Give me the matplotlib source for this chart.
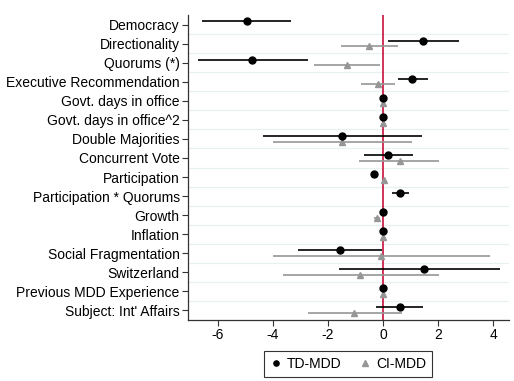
import numpy as np
import matplotlib
matplotlib.use("Agg")
import matplotlib.pyplot as plt

plt.rcParams['font.family'] = ['Liberation Sans', 'DejaVu Sans']

# Variables (top to bottom)
labels = ["Democracy", "Directionality", "Quorums (*)", "Executive Recommendation",
          "Govt. days in office", "Govt. days in office^2", "Double Majorities",
          "Concurrent Vote", "Participation", "Participation * Quorums", "Growth",
          "Inflation", "Social Fragmentation", "Switzerland",
          "Previous MDD Experience", "Subject: Int' Affairs"]

# TD-MDD coefficients and 95% CI
td_coef = [-4.96, 1.47, -4.75, 1.07, 0.0, 0.0, -1.50, 0.18, -0.34, 0.63,
           0.0, 0.0, -1.58, 1.49, 0.0, 0.62]
td_lo = [-6.57, 0.17, -6.73, 0.53, -0.03, -0.03, -4.38, -0.69, -0.45, 0.34,
         -0.03, -0.03, -3.09, -1.59, -0.03, -0.25]
td_hi = [-3.34, 2.77, -2.74, 1.62, 0.03, 0.03, 1.41, 1.09, -0.22, 0.96,
         0.03, 0.03, -0.05, 4.24, 0.03, 1.46]

# CI-MDD coefficients and 95% CI (no interaction term in this model)
ci_coef = [np.nan, -0.51, -1.32, -0.19, 0.0, 0.0, -1.50, 0.60, 0.05, np.nan,
           -0.22, 0.0, -0.08, -0.83, 0.0, -1.04]
ci_lo = [np.nan, -1.52, -2.52, -0.80, -0.03, -0.03, -4.00, -0.86, 0.0, np.nan,
         -0.32, -0.03, -4.00, -3.65, -0.03, -2.73]
ci_hi = [np.nan, 0.53, -0.11, 0.43, 0.03, 0.03, 1.04, 2.04, 0.1, np.nan,
         -0.12, 0.03, 3.90, 2.02, 0.03, 0.68]

y = np.arange(len(labels))
td_coef, td_lo, td_hi = map(np.array, (td_coef, td_lo, td_hi))
ci_coef, ci_lo, ci_hi = map(np.array, (ci_coef, ci_lo, ci_hi))

fig = plt.figure(figsize=(5.14, 3.81), dpi=100)
ax = fig.add_axes([188 / 514, 1 - 320 / 381, 321 / 514, 305 / 381])

# grid lines between categories
for g in y[:-1] + 0.5:
    ax.axhline(g, color='#e8f0f2', lw=0.9, zorder=0)

ax.axvline(0, color='#c8103c', lw=1.2, zorder=1)

gray = '#969696'
ax.hlines(y + 0.14, ci_lo, ci_hi, color=gray, lw=1.2, zorder=2)
ax.plot(ci_coef, y + 0.14, '^', color=gray, ms=5, ls='none', zorder=3, label='CI-MDD')
ax.hlines(y - 0.16, td_lo, td_hi, color='black', lw=1.2, zorder=4)
ax.plot(td_coef, y - 0.16, 'o', color='black', ms=5, ls='none', zorder=5, label='TD-MDD')

ax.set_xlim(-7.09, 4.58)
ax.set_ylim(15.5, -0.5)
ax.set_yticks(y)
ax.set_yticklabels(labels, fontsize=10)
ax.set_xticks([-6, -4, -2, 0, 2, 4])
ax.set_xticklabels(['-6', '-4', '-2', '0', '2', '4'], fontsize=10)
ax.tick_params(axis='both', length=4, width=0.8, color='#333333', pad=2)

for s in ['top', 'right']:
    ax.spines[s].set_visible(False)
for s in ['left', 'bottom']:
    ax.spines[s].set_color('#333333')
    ax.spines[s].set_linewidth(0.9)

h, l = ax.get_legend_handles_labels()
leg = fig.legend(h[::-1], l[::-1], loc='center', bbox_to_anchor=(348 / 514, 1 - 364 / 381),
                 ncol=2, fontsize=10, frameon=True, fancybox=False, handlelength=0.8,
                 markerscale=0.75, handletextpad=0.4, columnspacing=1.3, borderpad=0.4)
leg.get_frame().set_edgecolor('black')
leg.get_frame().set_linewidth(0.8)

fig.savefig('out.png', dpi=100)
